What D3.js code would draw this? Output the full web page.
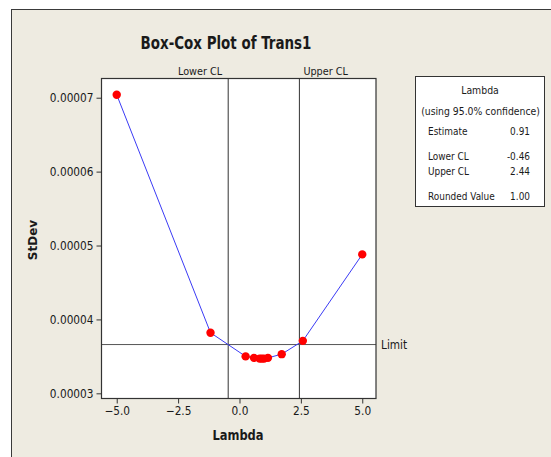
<!DOCTYPE html>
<html>
<head>
<meta charset="utf-8">
<script src="https://cdn.jsdelivr.net/npm/d3@7/dist/d3.min.js"></script>
<style>
  html, body { margin: 0; padding: 0; background: #ffffff; }
  svg { display: block; }
  text { font-family: "DejaVu Sans", sans-serif; fill: #1a1a1a; }
</style>
</head>
<body>
<svg id="chart" width="551" height="457"></svg>
<script>
// Box-Cox lambda search: evaluated lambda values and the pooled StDev at each
const lambdas = [-5, -1.18, 0.25, 0.59, 0.82, 0.91, 1.0, 1.16, 1.72, 2.58, 5];
const stdevs  = [0.0000704, 0.0000382, 0.0000350, 0.0000348, 0.0000347, 0.0000347, 0.0000347, 0.0000348, 0.0000353, 0.0000371, 0.0000488];

// Confidence limits and threshold
const lowerCL = -0.46;
const upperCL = 2.44;
const limitValue = 0.0000366;

// Axis ticks
const xTicks = [-5, -2.5, 0, 2.5, 5];
const yTicks = [0.00003, 0.00004, 0.00005, 0.00006, 0.00007];

// Summary table
const tableRows = [
  ["Estimate", "0.91"],
  ["Lower CL", "-0.46"],
  ["Upper CL", "2.44"],
  ["Rounded Value", "1.00"]
];

const svg = d3.select("#chart");
const W = 551, H = 457;

// Narrow the glyphs horizontally to get a condensed face
function condense(sel, factor) {
  sel.each(function () {
    const len = this.getComputedTextLength();
    d3.select(this).attr("textLength", (len * factor).toFixed(2)).attr("lengthAdjust", "spacingAndGlyphs");
  });
  return sel;
}

// Panel background and frame
svg.append("rect").attr("x", 0).attr("y", 0).attr("width", W).attr("height", H).attr("fill", "#ffffff");
svg.append("rect").attr("x", 11.5).attr("y", 9.5).attr("width", W + 20).attr("height", H + 20)
  .attr("fill", "#eeebe1").attr("stroke", "#3a3a3a").attr("stroke-width", 1);

const plot = { left: 101.5, top: 78.5, right: 376, bottom: 398.5 };

const x = d3.scaleLinear().domain([-5.62, 5.56]).range([plot.left, plot.right]);
const y = d3.scaleLinear().domain([0.0000293, 0.0000726]).range([plot.bottom, plot.top]);

// Plot area
svg.append("rect")
  .attr("x", plot.left).attr("y", plot.top)
  .attr("width", plot.right - plot.left).attr("height", plot.bottom - plot.top)
  .attr("fill", "#ffffff");

// Title
condense(svg.append("text").attr("x", 226).attr("y", 49)
  .attr("text-anchor", "middle").attr("font-size", 17).attr("font-weight", "bold")
  .text("Box-Cox Plot of Trans1"), 0.79);

// Confidence limit reference lines
const clGroup = svg.append("g");
clGroup.append("line")
  .attr("x1", x(lowerCL)).attr("x2", x(lowerCL))
  .attr("y1", plot.top).attr("y2", plot.bottom)
  .attr("stroke", "#333").attr("stroke-width", 1);
clGroup.append("line")
  .attr("x1", x(upperCL)).attr("x2", x(upperCL))
  .attr("y1", plot.top).attr("y2", plot.bottom)
  .attr("stroke", "#333").attr("stroke-width", 1);
condense(svg.append("text").attr("x", x(lowerCL) - 6).attr("y", 75)
  .attr("text-anchor", "end").attr("font-size", 11).text("Lower CL"), 0.88);
condense(svg.append("text").attr("x", x(upperCL) + 4).attr("y", 75)
  .attr("text-anchor", "start").attr("font-size", 11).text("Upper CL"), 0.88);

// Limit line
svg.append("line")
  .attr("x1", plot.left).attr("x2", plot.right)
  .attr("y1", y(limitValue)).attr("y2", y(limitValue))
  .attr("stroke", "#555").attr("stroke-width", 1);
condense(svg.append("text").attr("x", plot.right + 5).attr("y", y(limitValue) + 4)
  .attr("font-size", 12).text("Limit"), 0.88);

// Curve and points
const pts = lambdas.map((l, i) => [l, stdevs[i]]);
svg.append("path")
  .datum(pts)
  .attr("fill", "none").attr("stroke", "#3b3bf5").attr("stroke-width", 1)
  .attr("d", d3.line().x(d => x(d[0])).y(d => y(d[1])));
svg.selectAll("circle.pt").data(pts).enter().append("circle")
  .attr("class", "pt")
  .attr("cx", d => x(d[0])).attr("cy", d => y(d[1])).attr("r", 4.2)
  .attr("fill", "#ff0000");

// Plot border
svg.append("rect")
  .attr("x", plot.left).attr("y", plot.top)
  .attr("width", plot.right - plot.left).attr("height", plot.bottom - plot.top)
  .attr("fill", "none").attr("stroke", "#333").attr("stroke-width", 1.2);

// Axes
const xAxis = d3.axisBottom(x).tickValues(xTicks).tickFormat(d3.format(".1f")).tickSize(5).tickPadding(3);
const gx = svg.append("g").attr("transform", `translate(0,${plot.bottom})`).call(xAxis);
gx.attr("font-family", null).attr("font-size", null);
gx.select(".domain").remove();
gx.selectAll("line").attr("stroke", "#333");
condense(gx.selectAll("text").attr("font-size", 12).attr("fill", "#1a1a1a"), 0.88);

const yAxis = d3.axisLeft(y).tickValues(yTicks).tickFormat(d3.format(".5f")).tickSize(5).tickPadding(3);
const gy = svg.append("g").attr("transform", `translate(${plot.left},0)`).call(yAxis);
gy.attr("font-family", null).attr("font-size", null);
gy.select(".domain").remove();
gy.selectAll("line").attr("stroke", "#333");
condense(gy.selectAll("text").attr("font-size", 12).attr("fill", "#1a1a1a"), 0.88);

// Axis titles
condense(svg.append("text").attr("x", 238).attr("y", 440)
  .attr("text-anchor", "middle").attr("font-size", 13.5).attr("font-weight", "bold")
  .text("Lambda"), 0.85);
svg.append("text")
  .attr("transform", "translate(37,240) rotate(-90)")
  .attr("text-anchor", "middle").attr("font-size", 12).attr("font-weight", "bold")
  .text("StDev");

// Lambda summary box
const box = { x: 415.5, y: 76.5, w: 129, h: 130 };
svg.append("rect").attr("x", box.x).attr("y", box.y).attr("width", box.w).attr("height", box.h)
  .attr("fill", "#ffffff").attr("stroke", "#333").attr("stroke-width", 1);
condense(svg.append("text").attr("x", box.x + box.w / 2).attr("y", 94)
  .attr("text-anchor", "middle").attr("font-size", 11).text("Lambda"), 0.85);
condense(svg.append("text").attr("x", box.x + box.w / 2 + 0.5).attr("y", 115)
  .attr("text-anchor", "middle").attr("font-size", 10).text("(using 95.0% confidence)"), 0.93);
const rowY = [135, 160, 175, 200];
tableRows.forEach((r, i) => {
  condense(svg.append("text").attr("x", 428).attr("y", rowY[i]).attr("font-size", 10.5).text(r[0]), 0.85);
  condense(svg.append("text").attr("x", 530).attr("y", rowY[i]).attr("text-anchor", "end").attr("font-size", 10.5).text(r[1]), 0.85);
});
</script>
</body>
</html>
